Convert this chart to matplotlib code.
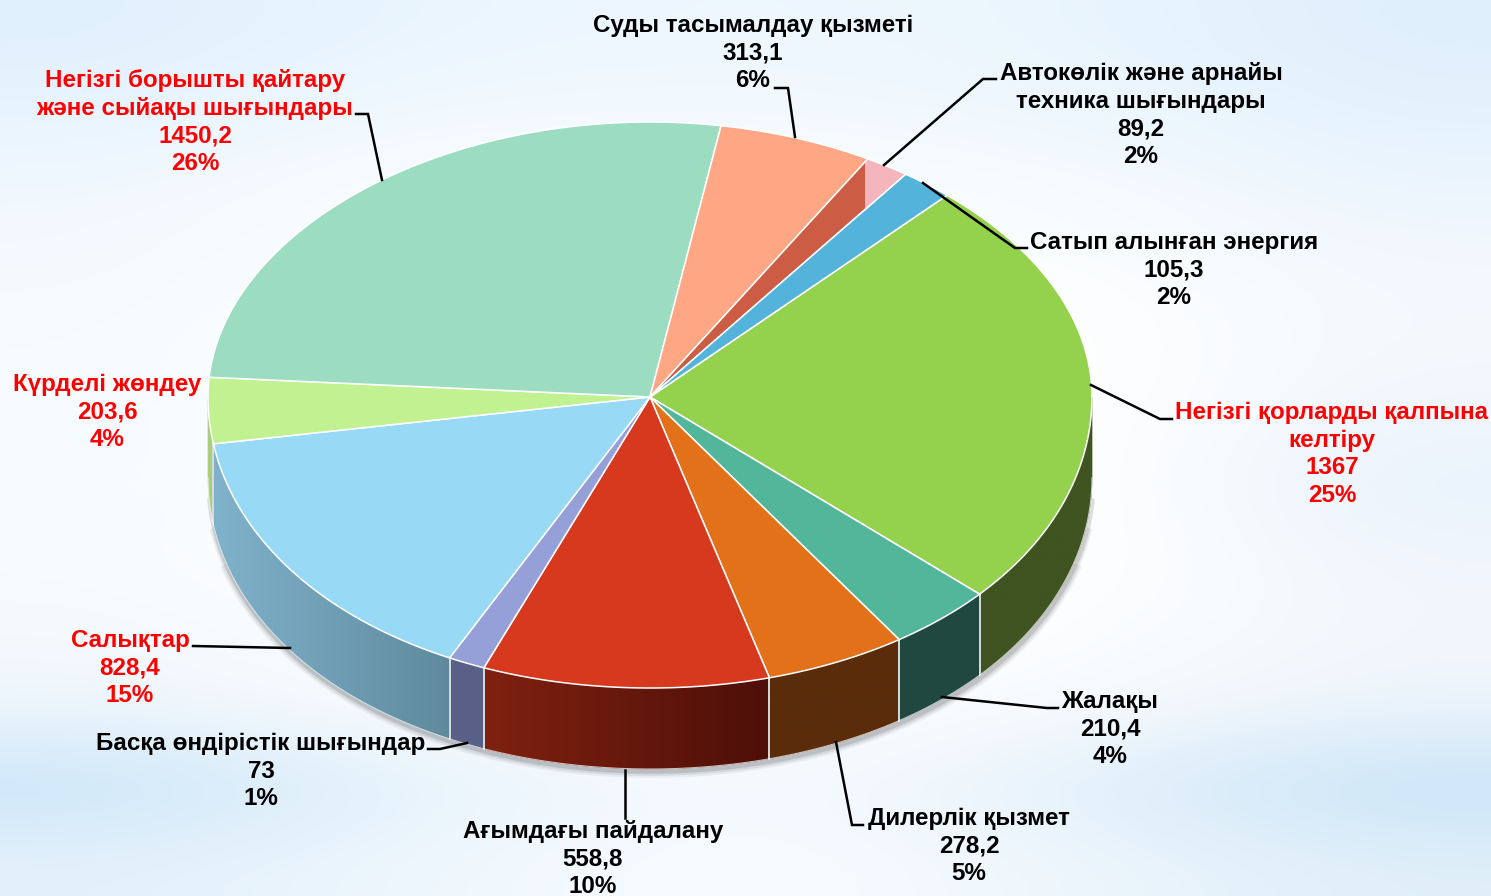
#!/usr/bin/env python3

"""Expense structure as a tilted 3D pie."""

import matplotlib
matplotlib.use('Agg')
import matplotlib.pyplot as plt
import numpy as np
from matplotlib.colors import to_rgb
from matplotlib.patches import Polygon, Rectangle

plt.rcParams['font.family'] = ['Liberation Sans', 'DejaVu Sans']

# clockwise from the green slice
names = [
    ['Негізгі қорларды қалпына', 'келтіру'],
    ['Жалақы'],
    ['Дилерлік қызмет'],
    ['Ағымдағы пайдалану'],
    ['Басқа өндірістік шығындар'],
    ['Салықтар'],
    ['Күрделі жөндеу'],
    ['Негізгі борышты қайтару', 'және сыйақы шығындары'],
    ['Суды тасымалдау қызметі'],
    ['Автокөлік және арнайы', 'техника шығындары'],
    ['Сатып алынған энергия'],
]
values = [1367, 210.4, 278.2, 558.8, 73, 828.4, 203.6, 1450.2, 313.1, 89.2, 105.3]
value_labels = ['1367', '210,4', '278,2', '558,8', '73', '828,4', '203,6', '1450,2', '313,1', '89,2', '105,3']
percents = ['25%', '4%', '5%', '10%', '1%', '15%', '4%', '26%', '6%', '2%', '2%']
highlighted = [True, False, False, False, False, True, True, True, False, False, False]

top_colors = ['#94d14d', '#52b79a', '#e3711a', '#d6391d', '#959fd8', '#98daf6',
              '#c2f191', '#9cddc2', '#ffa784', '#cd5c45', '#53b3da']
# only the first seven slices show a side wall
wall_left = ['#3f5420', '#20483f', '#5a2c0a', '#7f2110', '#5a6088', '#80b2cb', '#a9cf7c']
wall_right = ['#3f5420', '#20483f', '#5a2c0a', '#4e0f08', '#5a6088', '#5f8a9e', '#a9cf7c']

label_x = [1332, 1110, 969, 593, 261, 130, 107, 195, 753, 1141, 1174]
label_y = [411, 700, 817, 830, 742, 639, 383, 79, 24, 72, 241]
leaders = [
    [(1091, 385), (1160, 419), (1172, 419)],
    [(942, 697), (1047, 708), (1058, 708)],
    [(836, 742), (852, 825), (863, 825)],
    [(625, 770), (625, 818)],
    [(467, 743), (440, 749), (428, 749)],
    [(290, 648), (193, 646)],
    [(382, 180), (368, 114), (356, 114)],
    [(795, 137), (788, 88), (775, 88)],
    [(884, 165), (983, 79), (996, 79)],
    [(923, 183), (1015, 248), (1027, 248)],
]

# background wash, rows top to bottom
bg_colors = [
    ['#e0f0fd', '#e9f5fe', '#eef7fe', '#eef7fe', '#e9f5fe', '#dfeffc'],
    ['#e8f4fe', '#f1f9ff', '#f3fafe', '#f2f9fe', '#eef7fe', '#e4f2fd'],
    ['#f0f8fe', '#f9fcff', '#fbfdff', '#f9fdff', '#f5fbff', '#ecf5fd'],
    ['#f4f9fe', '#fdfeff', '#ffffff', '#feffff', '#fbfdff', '#f2f8fe'],
    ['#f6fbff', '#ffffff', '#ffffff', '#ffffff', '#ffffff', '#f4f9fe'],
    ['#f6fbff', '#ffffff', '#ffffff', '#ffffff', '#ffffff', '#f0f6fd'],
    ['#f6fbff', '#ffffff', '#ffffff', '#ffffff', '#ffffff', '#e8f2fc'],
    ['#f8fbff', '#ffffff', '#ffffff', '#ffffff', '#ffffff', '#f0f6fd'],
    ['#f4f9fe', '#fbfdff', '#ffffff', '#ffffff', '#fbfdff', '#f2f7fd'],
    ['#eef6fc', '#f7fbfe', '#fcfdff', '#fcfdff', '#f6fafd', '#ecf4fb'],
    ['#c8e4f8', '#e2f1fb', '#f3f9fe', '#f3f9fe', '#dfeefa', '#c6e3f7'],
    ['#e4f1fb', '#edf6fd', '#f6fbff', '#f6fbff', '#ecf5fc', '#e0eff9'],
]

CX, CY = 650, 397
RX, RY_BACK, RY_FRONT = 442, 275, 291
DEPTH = 81
START = 47.2


def rim(angles):
    # the front of the disc is a little closer to the viewer, so wider
    rad = np.radians(angles)
    sin = np.sin(rad)
    ry = np.where(sin > 0, RY_BACK, RY_FRONT)
    stretch = 1 + np.where(sin > 0, -0.02, 0.03) * sin ** 2
    return CX + RX * np.cos(rad) * stretch, CY - ry * sin


def wedge(a1, a2):
    x, y = rim(np.linspace(a1, a2, 80))
    return np.r_[CX, x], np.r_[CY, y]


def draw_wall(ax, lo, hi, left, right):
    x, y = rim(np.linspace(lo, hi, 60))
    outline = np.c_[np.r_[x, x[::-1]], np.r_[y, y[::-1] + DEPTH]]
    ax.fill(outline[:, 0], outline[:, 1], color=right, lw=0.5, zorder=3)
    gradient = np.linspace(to_rgb(left), to_rgb(right), 64)[np.newaxis, :, :]
    image = ax.imshow(gradient, extent=(x.min(), x.max(), outline[:, 1].max(), outline[:, 1].min()),
                      aspect='auto', interpolation='bilinear', zorder=3.1)
    image.set_clip_path(Polygon(outline, transform=ax.transData))


def main():
    fig = plt.figure(figsize=(14.91, 8.96), dpi=100)
    ax = fig.add_axes([0, 0, 1, 1])

    bg = np.array([[to_rgb(c) for c in row] for row in bg_colors])
    ax.imshow(bg, extent=(0, 1491, 896, 0), interpolation='bicubic', aspect='auto', zorder=0)

    # angles of the slices, going clockwise
    sweep = np.array(values) / sum(values) * 360
    ends = START - np.cumsum(sweep)
    starts = np.r_[START, ends[:-1]]

    # soft shadow around the front of the disc, wider bands start lower
    sx, sy = rim(np.linspace(180, 360, 400))
    for width, alpha, top in zip([10, 7, 4], [0.05, 0.08, 0.12], [560, 525, 495]):
        keep = sy + DEPTH >= top
        ax.plot(sx[keep] + 1, sy[keep] + DEPTH + 2, color='black',
                lw=width, alpha=alpha, zorder=2, solid_capstyle='butt')

    # side walls, only the front half can be seen
    for a1, a2, left, right in zip(starts, ends, wall_left, wall_right):
        lo = max(a2 + 360, 180)
        hi = min(a1 + 360, 360)
        if lo >= hi:
            continue
        draw_wall(ax, lo, hi, left, right)
        for angle in (lo, hi):
            if 180 < angle < 360:
                x, y = rim(np.array([angle]))
                ax.plot([x[0], x[0]], [y[0], y[0] + DEPTH], color='#d8dcdc', lw=1.2, zorder=4)

    # pale line along the bottom edge
    ax.plot(sx, sy + DEPTH, color='white', lw=0.8, alpha=0.7, zorder=4)

    # top of the disc
    for i, (a1, a2, color) in enumerate(zip(starts, ends, top_colors)):
        x, y = wedge(a1, a2)
        ax.fill(x, y, facecolor=color, edgecolor='white', lw=1.1, zorder=5)
        if names[i][0].startswith('Автокөлік'):
            # the outer corner of this slice is paler
            pale = ax.fill(x, y, facecolor='#f5b5bd', edgecolor='white', lw=1.1, zorder=6)[0]
            pale.set_clip_path(Rectangle((865, 100), 100, 150, transform=ax.transData))

    for points in leaders:
        xs, ys = zip(*points)
        ax.plot(xs, ys, color='black', lw=1.8, zorder=7, solid_joinstyle='miter')

    for i, lines in enumerate(names):
        color = 'red' if highlighted[i] else 'black'
        for j, line in enumerate(lines + [value_labels[i], percents[i]]):
            ax.text(label_x[i], label_y[i] + j * 27.6 + 8, line, color=color, fontsize=17.4,
                    fontweight='bold', ha='center', va='baseline', zorder=8)

    ax.set_xlim(0, 1491)
    ax.set_ylim(896, 0)
    ax.axis('off')
    fig.savefig('out.png', dpi=100)


if __name__ == '__main__':
    main()
